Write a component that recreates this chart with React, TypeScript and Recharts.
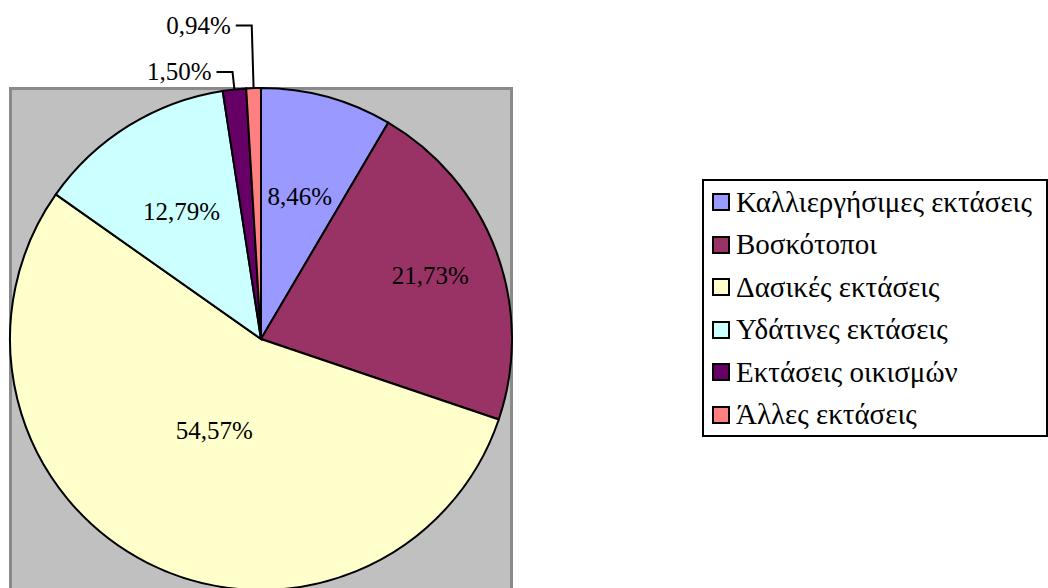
import { PieChart, Pie, Cell } from 'recharts';

const categories = [
  'Καλλιεργήσιμες εκτάσεις',
  'Βοσκότοποι',
  'Δασικές εκτάσεις',
  'Υδάτινες εκτάσεις',
  'Εκτάσεις οικισμών',
  'Άλλες εκτάσεις',
];
const shares = [8.46, 21.73, 54.57, 12.79, 1.5, 0.94];
const colors = ['#9999ff', '#993366', '#ffffcc', '#ccffff', '#660066', '#ff8080'];

// label distance from centre, as a share of the radius (>1 means outside with a leader line)
const labelRadius = [0.59, 0.72, 0.41, 0.6, 1.07, 1.25];

const data = categories.map((name, i) => ({ name, value: shares[i] }));

const FONT = 'Liberation Serif';
const RADIAN = Math.PI / 180;

const fmt = (v: number) => `${v.toFixed(2).replace('.', ',')}%`;

const renderLabel = (props: any) => {
  const { cx, cy, midAngle, outerRadius, index } = props;
  const f = labelRadius[index];
  const r = outerRadius * f;
  const cos = Math.cos(-midAngle * RADIAN);
  const sin = Math.sin(-midAngle * RADIAN);
  const x = cx + r * cos;
  const y = cy + r * sin;
  const text = fmt(shares[index]);
  if (f <= 1) {
    return (
      <text x={x} y={y} textAnchor="middle" dominantBaseline="central" fill="#000" fontSize={25} fontFamily={FONT}>
        {text}
      </text>
    );
  }
  const ex = cx + outerRadius * cos;
  const ey = cy + outerRadius * sin;
  return (
    <g>
      <polyline points={`${ex},${ey} ${x},${y} ${x - 16},${y}`} fill="none" stroke="#000" strokeWidth={2} />
      <text x={x - 21} y={y} textAnchor="end" dominantBaseline="central" fill="#000" fontSize={25} fontFamily={FONT}>
        {text}
      </text>
    </g>
  );
};

const LegendBox = () => (
  <div
    style={{
      position: 'absolute',
      left: 702,
      top: 179,
      border: '2px solid #000',
      width: 346,
      height: 258,
      boxSizing: 'border-box',
      padding: '0 0 0 8px',
      background: '#fff',
      fontFamily: FONT,
      fontSize: 29,
      color: '#000',
    }}
  >
    {categories.map((name, i) => (
      <div key={name} style={{ display: 'flex', alignItems: 'center', height: 42.5 }}>
        <span
          style={{
            display: 'inline-block',
            width: 14,
            height: 14,
            border: '2px solid #000',
            background: colors[i],
            marginRight: 6,
            flexShrink: 0,
          }}
        />
        <span style={{ whiteSpace: 'nowrap' }}>{name}</span>
      </div>
    ))}
  </div>
);

export default function App() {
  return (
    <div style={{ position: 'absolute', left: 0, top: 0, width: 1048, height: 588, overflow: 'hidden', background: '#fff' }}>
      <div
        style={{
          position: 'absolute',
          left: 9,
          top: 87,
          width: 504,
          height: 520,
          boxSizing: 'border-box',
          background: '#c0c0c0',
          border: '3px solid #8a8a8a',
        }}
      />
      <PieChart
        width={1048}
        height={588}
        margin={{ top: 0, right: 0, bottom: 0, left: 0 }}
        style={{ position: 'absolute', left: 0, top: 0 }}
      >
        <Pie
          data={data}
          dataKey="value"
          nameKey="name"
          cx={261}
          cy={339}
          outerRadius={251}
          startAngle={90}
          endAngle={-270}
          stroke="#000"
          strokeWidth={2}
          label={renderLabel}
          labelLine={false}
          isAnimationActive={false}
        >
          {data.map((d, i) => (
            <Cell key={d.name} fill={colors[i]} />
          ))}
        </Pie>
      </PieChart>
      <LegendBox />
    </div>
  );
}
